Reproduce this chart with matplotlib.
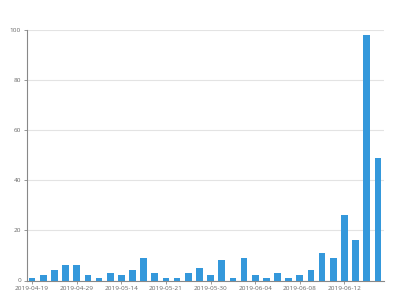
import matplotlib
matplotlib.use("Agg")
import matplotlib.pyplot as plt

dates = ["2019-04-19", "2019-04-22", "2019-04-24", "2019-04-26",
         "2019-04-29", "2019-05-06", "2019-05-09", "2019-05-12",
         "2019-05-14", "2019-05-16", "2019-05-17", "2019-05-20",
         "2019-05-21", "2019-05-23", "2019-05-27", "2019-05-28",
         "2019-05-30", "2019-05-31", "2019-06-01", "2019-06-03",
         "2019-06-04", "2019-06-05", "2019-06-06", "2019-06-07",
         "2019-06-08", "2019-06-09", "2019-06-10", "2019-06-11",
         "2019-06-12", "2019-06-13", "2019-06-14", "2019-06-15"]
counts = [1, 2, 4, 6, 6, 2, 1, 3, 2, 4, 9, 3, 1, 1, 3, 5,
          2, 8, 1, 9, 2, 1, 3, 1, 2, 4, 11, 9, 26, 16, 98, 49]
y_ticks = [0, 20, 40, 60, 80, 100]

plt.rcParams['font.family'] = ['Open Sans', 'DejaVu Sans']
fig = plt.figure(figsize=(4, 3), dpi=100)
ax = fig.add_axes([26.5 / 400, 19.5 / 300, (383.5 - 26.5) / 400, (280.5 - 30) / 300])

x = list(range(len(dates)))
ax.bar(x, counts, width=0.6, color='#3498db', zorder=3)

ax.set_xlim(-0.5, len(dates) - 0.5)
ax.set_ylim(0, 100)
ax.set_yticks(y_ticks)
ax.set_yticklabels([str(v) for v in y_ticks])
ax.set_xticks(x[::4])
ax.set_xticklabels(dates[::4])

ax.grid(axis='y', color='#e3e3e3', linewidth=0.8, zorder=0)
ax.set_axisbelow(True)
for s in ['top', 'right']:
    ax.spines[s].set_visible(False)
for s in ['left', 'bottom']:
    ax.spines[s].set_color('#888888')
    ax.spines[s].set_linewidth(0.8)

ax.tick_params(axis='both', labelsize=4.6, colors='#888888', labelcolor='#666666',
               length=2.5, width=0.6, pad=1.5)

fig.savefig("out.png", dpi=100)
